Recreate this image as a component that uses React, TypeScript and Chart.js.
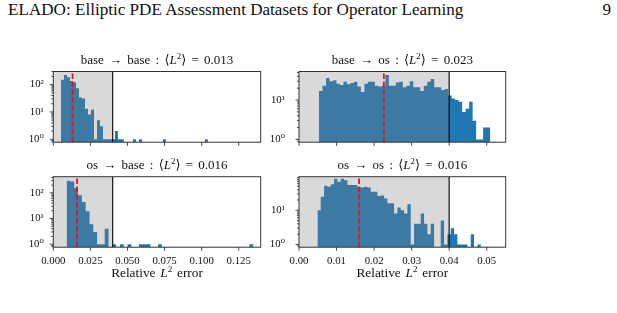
import React, { useEffect, useRef } from 'react';
import { Chart, registerables } from 'chart.js';
Chart.register(...registerables);

// ---------- data ----------
// histogram bins: first bin edge, bin width, counts (0 = empty bin)
const binStartBaseBase = 0.0052;
const binWidthBaseBase = 0.00202;
const countsBaseBase = [54, 151, 225, 185, 135, 121, 73, 34, 31, 13, 8, 12, 1, 5, 3, 1, 1, 1, 1, 2, 1, 1, 0, 0, 0, 1, 0, 1, 0, 0, 0, 0, 0, 0, 0, 1, 0, 0, 0, 0, 0, 0, 0, 0, 0, 0, 0, 0, 0, 1];

const binStartBaseOs = 0.00533;
const binWidthBaseOs = 0.00093;
const countsBaseOs = [11, 17, 23, 36, 30, 32, 26, 24, 29, 25, 27, 29, 22, 16, 26, 29, 29, 23, 22, 23, 43, 23, 23, 28, 29, 21, 23, 30, 21, 21, 17, 23, 29, 34, 21, 21, 18, 19, 13, 11, 10, 9, 5, 6, 9, 3, 1, 1, 2, 2];

const binStartOsBase = 0.009;
const binWidthOsBase = 0.002566;
const countsOsBase = [64, 295, 275, 155, 80, 44, 19, 6, 3, 1, 1, 4, 0, 1, 0, 1, 0, 1, 0, 0, 1, 1, 1, 0, 0, 1, 0, 0, 0, 0, 0, 0, 0, 0, 0, 0, 0, 0, 0, 0, 0, 0, 0, 0, 0, 0, 0, 0, 0, 1];

const binStartOsOs = 0.0049;
const binWidthOsOs = 0.000888;
const countsOsOs = [5, 10, 25, 52, 49, 58, 83, 68, 83, 76, 55, 55, 55, 48, 46, 49, 46, 35, 35, 26, 27, 22, 16, 16, 8, 12, 10, 8, 15, 1, 4, 4, 8, 4, 2, 4, 0, 0, 5, 1, 2, 3, 2, 1, 1, 1, 0, 2, 0, 1];

const trainSets = ['base', 'base', 'os', 'os'];
const testSets = ['base', 'os', 'base', 'os'];
const meanLabels = ['0.013', '0.023', '0.016', '0.016'];
const meanValues = [0.013, 0.0226, 0.016, 0.016];
const threshold = 0.04;

const xTicksLeft = [0, 0.025, 0.05, 0.075, 0.1, 0.125];
const xTicksRight = [0, 0.01, 0.02, 0.03, 0.04, 0.05];
const yMajorTicks = [1, 10, 100];
const supDigits: Record<string, string> = { '0': '⁰', '1': '¹', '2': '²' };

// ---------- layout ----------
const W = 617;
const H = 313;
const SERIF = "'Liberation Serif', 'DejaVu Serif', serif";
const YW = 40;
const XH = 26;

type Panel = {
  start: number; width: number; counts: number[];
  left: number; right: number; top: number; bottom: number;
  xmax: number; ymin: number; ymax: number;
  xTicks: number[]; decimals: number; showX: boolean; yPad: number;
};

const panels: Panel[] = [
  { start: binStartBaseBase, width: binWidthBaseBase, counts: countsBaseBase, left: 53.3, right: 260.7, top: 71.5, bottom: 142.2, xmax: 0.1398, ymin: 0.78, ymax: 302, xTicks: xTicksLeft, decimals: 3, showX: false, yPad: 9.5 },
  { start: binStartBaseOs, width: binWidthBaseOs, counts: countsBaseOs, left: 299, right: 505.7, top: 71.5, bottom: 142.2, xmax: 0.05506, ymin: 0.85, ymax: 53, xTicks: xTicksRight, decimals: 2, showX: false, yPad: 14 },
  { start: binStartOsBase, width: binWidthOsBase, counts: countsOsBase, left: 53.3, right: 260.7, top: 176.7, bottom: 247.2, xmax: 0.1398, ymin: 0.76, ymax: 427, xTicks: xTicksLeft, decimals: 3, showX: true, yPad: 9.5 },
  { start: binStartOsOs, width: binWidthOsOs, counts: countsOsOs, left: 299, right: 505.7, top: 176.7, bottom: 247.2, xmax: 0.05506, ymin: 0.83, ymax: 96, xTicks: xTicksRight, decimals: 2, showX: true, yPad: 14 },
];

function decorPlugin(mean: number) {
  return {
    id: 'decor',
    afterDatasetsDraw(chart: any) {
      const { ctx, chartArea: a, scales } = chart;
      const x = scales.x, y = scales.y;
      ctx.save();
      const x0 = x.getPixelForValue(0);
      const x1 = x.getPixelForValue(threshold);
      ctx.fillStyle = 'rgba(128,128,128,0.3)';
      ctx.fillRect(x0, a.top, x1 - x0, a.bottom - a.top);
      ctx.strokeStyle = 'rgba(0,0,0,0.85)';
      ctx.lineWidth = 1.3;
      ctx.beginPath(); ctx.moveTo(x1, a.top); ctx.lineTo(x1, a.bottom); ctx.stroke();
      const xm = x.getPixelForValue(mean);
      ctx.strokeStyle = '#e8121a';
      ctx.lineWidth = 1.8;
      ctx.setLineDash([5.5, 2.4]);
      ctx.beginPath(); ctx.moveTo(xm, a.bottom); ctx.lineTo(xm, a.top); ctx.stroke();
      ctx.setLineDash([]);
      ctx.strokeStyle = '#333';
      ctx.lineWidth = 1;
      ctx.strokeRect(a.left, a.top, a.right - a.left, a.bottom - a.top);
      ctx.lineWidth = 0.9;
      ctx.beginPath();
      for (const t of x.ticks) {
        const px = x.getPixelForValue(t.value);
        ctx.moveTo(px, a.bottom); ctx.lineTo(px, a.bottom + 3.5);
      }
      for (let d = 0.1; d <= 1000; d *= 10) {
        for (let m = 1; m <= 9; m++) {
          const v = Math.round(d * m * 1000) / 1000;
          if (v < y.min || v > y.max) continue;
          const py = y.getPixelForValue(v);
          const len = m === 1 ? 3.5 : 2;
          ctx.moveTo(a.left, py); ctx.lineTo(a.left - len, py);
        }
      }
      ctx.stroke();
      ctx.restore();
    },
  };
}

function Hist({ p, mean }: { p: Panel; mean: number }) {
  const ref = useRef<HTMLCanvasElement>(null);
  useEffect(() => {
    // stepped outline of the histogram: one point per bin edge; empty bins fall below the axis
    const below = p.ymin * 0.5;
    const data = p.counts.map((c, i) => ({ x: p.start + p.width * i, y: c > 0 ? c : below }));
    data.push({ x: p.start + p.width * p.counts.length, y: below });
    const chart = new Chart(ref.current as HTMLCanvasElement, {
      type: 'line',
      data: {
        datasets: [{
          data: data as any,
          backgroundColor: '#1f77b4',
          borderColor: '#1f77b4',
          borderWidth: 0,
          pointRadius: 0,
          stepped: 'after',
          fill: 'start',
          tension: 0,
        }],
      },
      options: {
        animation: false,
        responsive: false,
        events: [],
        layout: { padding: { left: p.left - YW, right: W - p.right, top: p.top, bottom: H - p.bottom - XH } },
        plugins: { legend: { display: false }, tooltip: { enabled: false }, title: { display: false }, filler: { propagate: false } },
        scales: {
          x: {
            type: 'linear', min: 0, max: p.xmax, offset: false,
            afterBuildTicks: (s: any) => { s.ticks = p.xTicks.map((v) => ({ value: v })); },
            afterFit: (s: any) => { s.height = XH; },
            grid: { display: false, drawTicks: false },
            border: { display: false },
            ticks: {
              display: p.showX, padding: 7, autoSkip: false, maxRotation: 0, color: '#111',
              font: { family: SERIF, size: 10.8 },
              callback: (v: any) => Number(v).toFixed(p.decimals),
            },
          },
          y: {
            type: 'logarithmic', min: p.ymin, max: p.ymax,
            afterBuildTicks: (s: any) => { s.ticks = yMajorTicks.filter((v) => v >= p.ymin && v <= p.ymax).map((v) => ({ value: v })); },
            afterFit: (s: any) => { s.width = YW; },
            grid: { display: false, drawTicks: false },
            border: { display: false },
            ticks: {
              padding: p.yPad, autoSkip: false, color: '#111',
              font: { family: SERIF, size: 10.8 },
              callback: (v: any) => '10' + supDigits[String(Math.round(Math.log10(Number(v))))],
            },
          },
        },
      } as any,
      plugins: [decorPlugin(mean)],
    });
    return () => chart.destroy();
  }, []);
  return <canvas ref={ref} width={W} height={H} style={{ position: 'absolute', left: 0, top: 0 }} />;
}

const supStyle: React.CSSProperties = { fontSize: '0.68em', verticalAlign: '0.55em', lineHeight: 0 };

export default function App() {
  return (
    <div style={{ position: 'fixed', left: 0, top: 0, width: W, height: H, background: '#fff', overflow: 'hidden', fontFamily: SERIF, color: '#111' }}>
      <div style={{ position: 'absolute', left: 8, top: 0, fontSize: 17.1, lineHeight: '19px', whiteSpace: 'nowrap' }}>
        ELADO: Elliptic PDE Assessment Datasets for Operator Learning
      </div>
      <div style={{ position: 'absolute', right: 6, top: 0, fontSize: 17.1, lineHeight: '19px' }}>9</div>
      {panels.map((p, i) => (
        <Hist key={i} p={p} mean={meanValues[i]} />
      ))}
      {panels.map((p, i) => (
        <div key={'t' + i} style={{ position: 'absolute', left: p.left - 30, width: p.right - p.left + 60, top: p.top - 19, textAlign: 'center', fontSize: 13, lineHeight: '14px', whiteSpace: 'nowrap', wordSpacing: '2px' }}>
          {trainSets[i]} → {testSets[i]} : ⟨<i>L</i><sup style={supStyle}>2</sup>⟩ = {meanLabels[i]}
        </div>
      ))}
      {panels.filter((p) => p.showX).map((p, i) => (
        <div key={'x' + i} style={{ position: 'absolute', left: p.left, width: p.right - p.left, top: 266, textAlign: 'center', fontSize: 13.3, lineHeight: '14px', whiteSpace: 'nowrap', wordSpacing: '1.5px' }}>
          Relative <i>L</i><sup style={supStyle}>2</sup> error
        </div>
      ))}
    </div>
  );
}
